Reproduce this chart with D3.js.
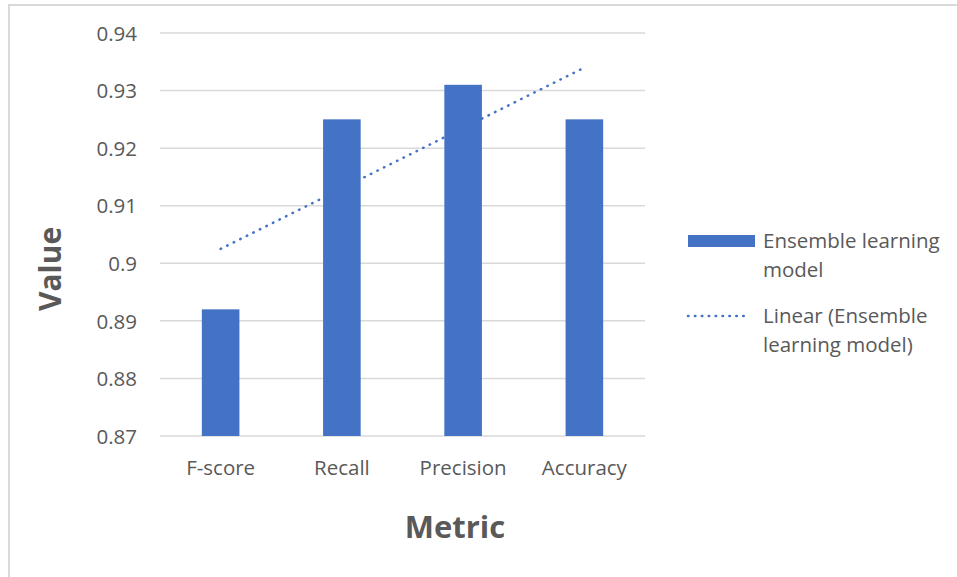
<!DOCTYPE html>
<html><head><meta charset="utf-8">
<script src="https://cdn.jsdelivr.net/npm/d3@7"></script>
<style>html,body{margin:0;padding:0;background:#fff;}svg{display:block;font-family:"Open Sans",sans-serif;}</style>
</head><body><svg id="c" width="957" height="577"></svg>
<script>
const categories = ["F-score", "Recall", "Precision", "Accuracy"];
const values = [0.892, 0.925, 0.931, 0.925];
const yTicks = [0.87, 0.88, 0.89, 0.9, 0.91, 0.92, 0.93, 0.94];
const seriesName = "Ensemble learning model";
const trendName = "Linear (Ensemble learning model)";

const svg = d3.select("#c");
const W = 957, H = 577;
const plot = {left: 160, right: 645, top: 33, bottom: 436};
const blue = "#4472C4", gray = "#595959", grid = "#D9D9D9";
const fs = 20.5;

svg.append("rect").attr("x", 9).attr("y", 5).attr("width", W + 10).attr("height", H + 10)
  .attr("fill", "#fff").attr("stroke", grid).attr("stroke-width", 2);

const x = d3.scaleBand().domain(categories).range([plot.left, plot.right]).paddingInner(0.69).paddingOuter(0.345);
const y = d3.scaleLinear().domain([0.87, 0.94]).range([plot.bottom, plot.top]);

// gridlines
svg.append("g").selectAll("line").data(yTicks).join("line")
  .attr("x1", plot.left).attr("x2", plot.right)
  .attr("y1", d => y(d)).attr("y2", d => y(d))
  .attr("stroke", grid).attr("stroke-width", 1.5);

// y axis labels
const yAxis = d3.axisLeft(y).tickValues(yTicks).tickSize(0).tickPadding(0).tickFormat(d => d3.format("")(+d.toFixed(2)));
const gy = svg.append("g").attr("transform", `translate(${plot.left - 23},0)`).call(yAxis);
gy.select(".domain").remove();
gy.selectAll("text").attr("fill", gray).attr("font-size", fs).attr("font-family", "Open Sans").attr("dy", "0.35em");

// bars
svg.append("g").selectAll("rect").data(values).join("rect")
  .attr("x", (d, i) => x(categories[i])).attr("width", x.bandwidth())
  .attr("y", d => y(d)).attr("height", d => y(0.87) - y(d))
  .attr("fill", blue);

// x axis labels
const xAxis = d3.axisBottom(x).tickSize(0).tickPadding(0);
const gx = svg.append("g").attr("transform", `translate(0,${plot.bottom})`).call(xAxis);
gx.select(".domain").remove();
gx.selectAll("text").attr("fill", gray).attr("font-size", fs).attr("font-family", "Open Sans").attr("dy", 0).attr("y", 39);

// trend line (least squares)
const xs = values.map((d, i) => i + 1);
const mx = d3.mean(xs), my = d3.mean(values);
const slope = d3.sum(xs.map((xi, i) => (xi - mx) * (values[i] - my))) / d3.sum(xs.map(xi => (xi - mx) ** 2));
const icpt = my - slope * mx;
const cx = i => x(categories[i]) + x.bandwidth() / 2;
const trend = xs.map((xi, i) => [cx(i), y(icpt + slope * xi)]);
svg.append("path").attr("d", d3.line()(trend)).attr("fill", "none")
  .attr("stroke", blue).attr("stroke-width", 2.5).attr("stroke-linecap", "round")
  .attr("stroke-dasharray", "0.5 6.8");

// axis titles
svg.append("text").attr("x", 455).attr("y", 538).attr("text-anchor", "middle")
  .attr("font-size", 31).attr("font-weight", "bold").attr("fill", gray).text("Metric");
svg.append("text").attr("transform", "translate(61,269) rotate(-90)").attr("text-anchor", "middle")
  .attr("font-size", 30).attr("font-weight", "bold").attr("fill", gray).text("Value");

// legend
const lg = svg.append("g");
lg.append("rect").attr("x", 688).attr("y", 235).attr("width", 67).attr("height", 12).attr("fill", blue);
lg.append("text").attr("x", 763).attr("y", 248).attr("font-size", fs).attr("fill", gray)
  .selectAll("tspan").data(["Ensemble learning", "model"]).join("tspan")
  .attr("x", 763).attr("dy", (d, i) => i ? 29 : 0).text(d => d);
lg.append("line").attr("x1", 688).attr("x2", 750).attr("y1", 316).attr("y2", 316)
  .attr("stroke", blue).attr("stroke-width", 2.5).attr("stroke-linecap", "round").attr("stroke-dasharray", "0.5 6.4");
lg.append("text").attr("x", 763).attr("y", 323).attr("font-size", fs).attr("fill", gray)
  .selectAll("tspan").data(["Linear (Ensemble", "learning model)"]).join("tspan")
  .attr("x", 763).attr("dy", (d, i) => i ? 29 : 0).text(d => d);
</script></body></html>
